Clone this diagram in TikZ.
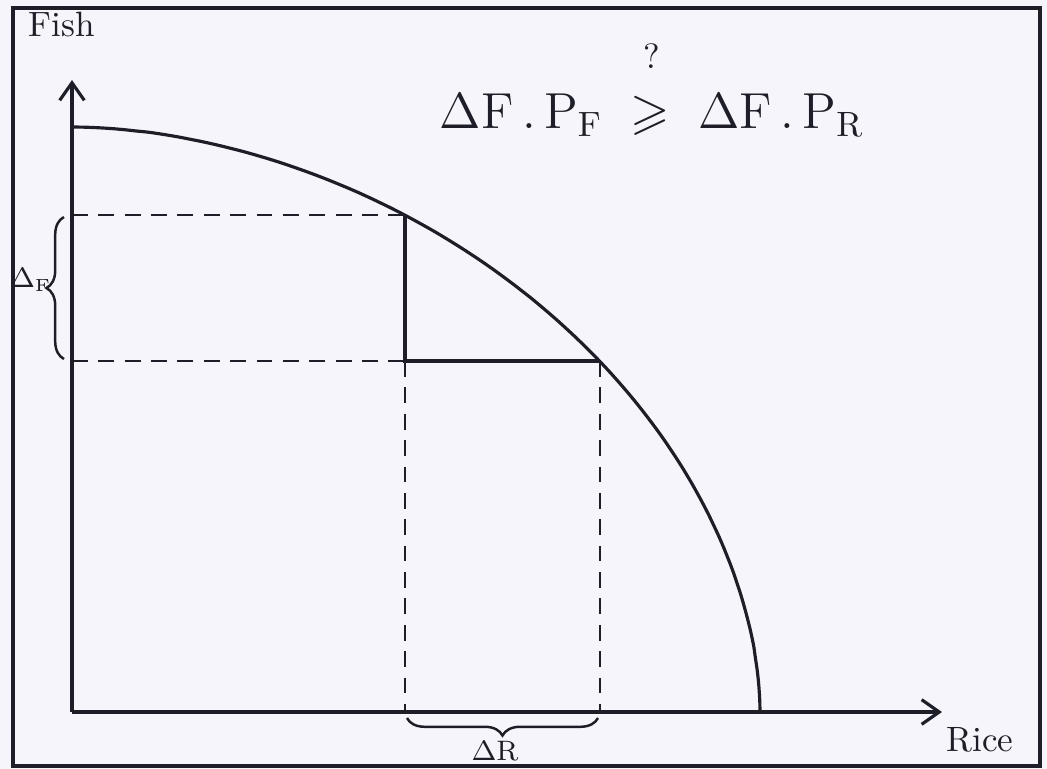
\documentclass[tikz,border=0pt]{standalone}
\usepackage{amsmath,amssymb}
\usetikzlibrary{decorations.pathreplacing,arrows.meta}
\definecolor{paper}{RGB}{246,245,252}
\definecolor{ink}{RGB}{30,30,40}
\begin{document}
\begin{tikzpicture}[x=0.01cm,y=-0.01cm,
  ink line/.style={draw=ink,line width=0.9pt},
  dash line/.style={draw=ink,line width=0.7pt,dash pattern=on 4.5pt off 3pt},
  axis/.style={draw=ink,line width=0.9pt,-{Straight Barb[length=5pt,width=7pt]}},
  lab/.style={text=ink,inner sep=1pt},
  brace line/.style={draw=ink,line width=0.7pt,decorate,decoration={brace,amplitude=5pt}}]
\fill[paper] (0,0) rectangle (1047,769);
\useasboundingbox (0,0) rectangle (1047,769);
\draw[ink,line width=1.3pt] (13,8) rectangle (1040,766);
% points
\coordinate (O) at (72,712);
\coordinate (Ytop) at (72,80);
\coordinate (Xend) at (942,712);
\coordinate (A) at (405,215);
\coordinate (B) at (600,361);
\coordinate (C) at (405,361);
\coordinate (Af) at (72,215);
\coordinate (Cf) at (72,361);
\coordinate (Cr) at (405,712);
\coordinate (Br) at (600,712);
\coordinate (P0) at (72,127);
\coordinate (P1) at (760,712);
% axes
\draw[axis] (O) -- (Ytop);
\draw[axis] (O) -- (Xend);
% production possibility curve
\draw[ink line] (P0) -- plot[domain=0.3:89.7,samples=90,smooth] ({72+688*pow(sin(\x),1.081)},{712-585*pow(cos(\x),1.081)}) -- (P1);
% solid steps
\draw[ink line] (A) -- (C) -- (B);
% dashed guides
\draw[dash line] (Af) -- (A);
\draw[dash line] (Cf) -- (C);
\draw[dash line] (C) -- (Cr);
\draw[dash line] (B) -- (Br);
% braces
\draw[brace line] (64,359) -- (64,217);
\draw[brace line] (598,718) -- (407,718);
% labels
\node[lab,font=\footnotesize] (dF) at (31,280) {$\Delta_{\scriptscriptstyle\mathrm{F}}$};
\node[lab,font=\footnotesize] (dR) at (495,751) {$\Delta\mathrm{R}$};
\node[lab] (fish) at (62,24) {Fish};
\node[lab] (rice) at (980,740) {Rice};
\node[lab,font=\Large] (eq) at (652,115) {$\Delta\mathrm{F}\,.\,\mathrm{P_F} \;\geqslant\; \Delta\mathrm{F}\,.\,\mathrm{P_R}$};
\node[lab] (q) at (652,56) {?};
\end{tikzpicture}
\end{document}
